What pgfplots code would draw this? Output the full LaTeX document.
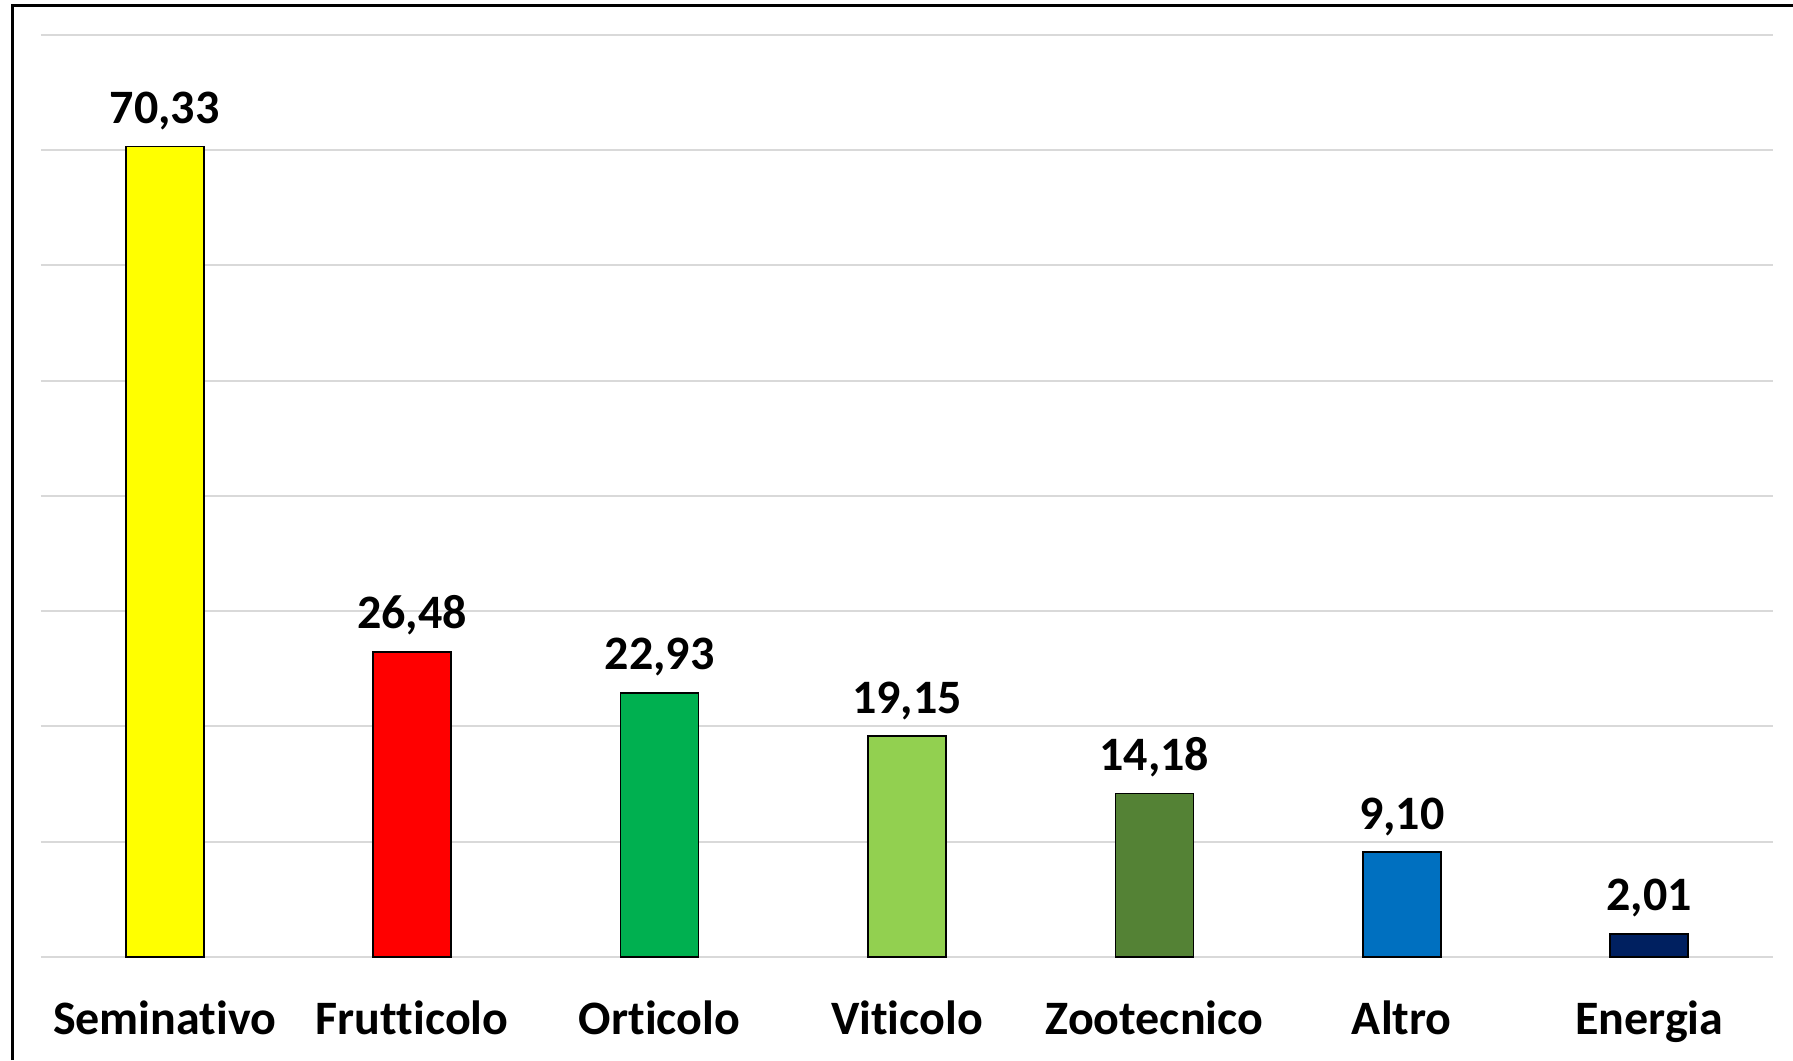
\documentclass[border=0pt]{standalone}
\usepackage{pgfplots}
\pgfplotsset{compat=1.18}
\usepackage{fontspec}
\setmainfont{Carlito}[Ligatures={NoCommon}]
\definecolor{cSem}{HTML}{FFFF00}
\definecolor{cFru}{HTML}{FF0000}
\definecolor{cOrt}{HTML}{00B050}
\definecolor{cVit}{HTML}{92D050}
\definecolor{cZoo}{HTML}{548235}
\definecolor{cAlt}{HTML}{0070C0}
\definecolor{cEne}{HTML}{002060}
\definecolor{cGrid}{HTML}{D9D9D9}
\begin{document}
\begin{tikzpicture}
\useasboundingbox (0,0) rectangle (896.5pt,530pt);
\draw[line width=1.5pt] (6pt,0) -- (6pt,527pt) -- (896.5pt,527pt);
\begin{axis}[
  at={(20.5pt,51.5pt)}, anchor=south west,
  scale only axis, width=866pt, height=461pt,
  xmin=-0.5, xmax=6.5, ymin=0, ymax=80,
  ytick={0,10,...,80}, yticklabels={},
  ymajorgrids, grid style={draw=cGrid, line width=1pt},
  axis line style={draw=none}, major tick length=0pt,
  xtick={0,1,2,3,4,5,6},
  xticklabels={Seminativo,Frutticolo,Orticolo,Viticolo,Zootecnico,Altro,Energia},
  xticklabel style={anchor=base, yshift=-38.5pt, inner sep=0pt, font=\fontsize{24}{28}\selectfont\bfseries},
  ybar, bar width=39pt, bar shift=0pt,
  clip=false,
  nodes near coords,
  /pgf/number format/.cd, use comma, fixed, fixed zerofill, precision=2, assume math mode=true,
  /pgfplots/.cd,
  every node near coord/.append style={anchor=base, yshift=11.5pt, inner sep=0pt, font=\fontsize{24}{28}\selectfont\bfseries, text=black},
]
\addplot[fill=cSem, draw=black, line width=0.8pt] coordinates {(0,70.33)};
\addplot[fill=cFru, draw=black, line width=0.8pt] coordinates {(1,26.48)};
\addplot[fill=cOrt, draw=black, line width=0.8pt] coordinates {(2,22.93)};
\addplot[fill=cVit, draw=black, line width=0.8pt] coordinates {(3,19.15)};
\addplot[fill=cZoo, draw=black, line width=0.8pt] coordinates {(4,14.18)};
\addplot[fill=cAlt, draw=black, line width=0.8pt] coordinates {(5,9.10)};
\addplot[fill=cEne, draw=black, line width=0.8pt] coordinates {(6,2.01)};
\end{axis}
\end{tikzpicture}
\end{document}
